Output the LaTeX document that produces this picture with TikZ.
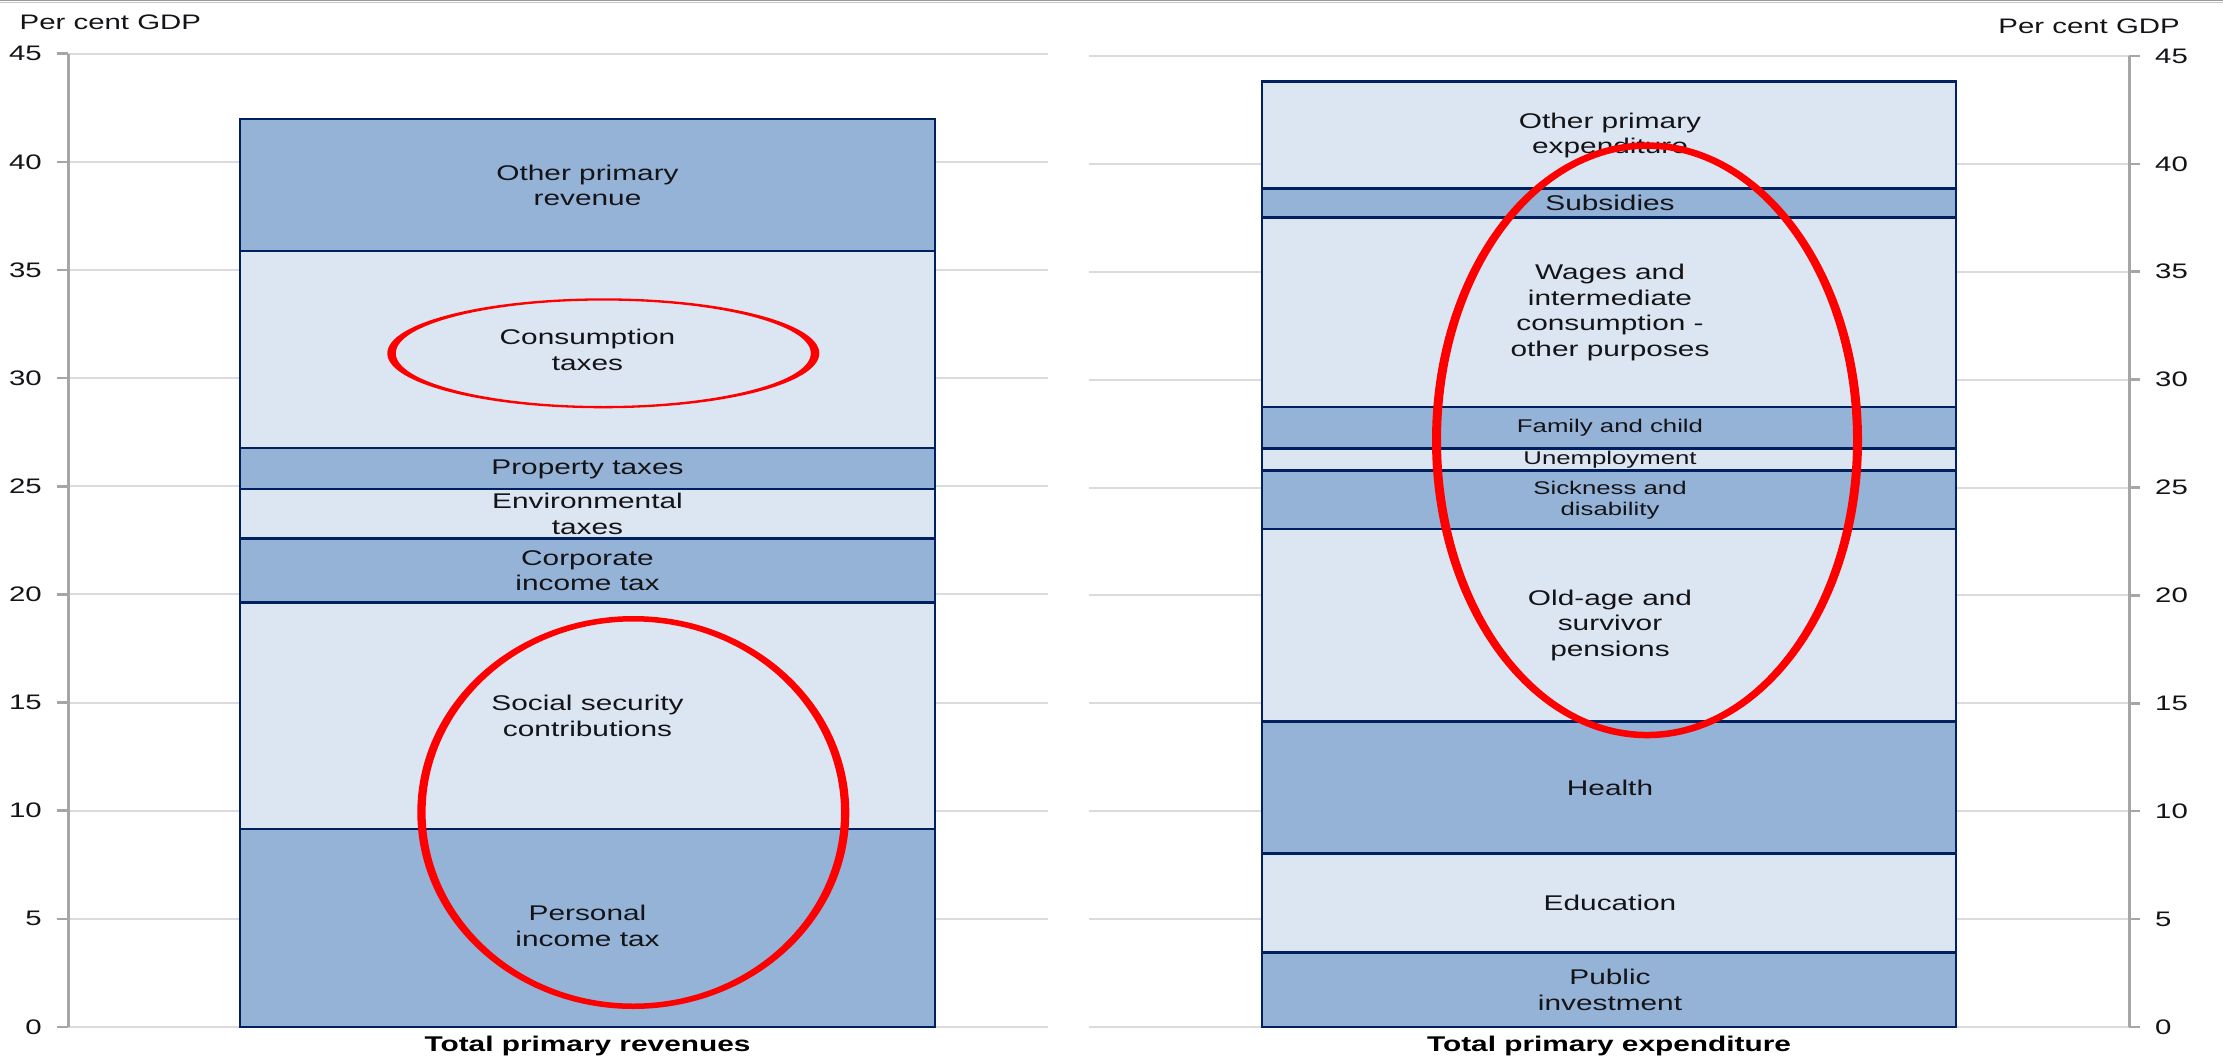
\documentclass[tikz,border=0pt]{standalone}
\usepackage{fontspec}
\setmainfont[FakeStretch=1.4]{Liberation Sans}
\definecolor{darkfill}{RGB}{149,179,215}
\definecolor{lightfill}{RGB}{220,230,242}
\definecolor{barline}{RGB}{0,32,96}
\definecolor{gridc}{RGB}{219,219,219}
\definecolor{axisc}{RGB}{166,166,166}
\definecolor{txt}{RGB}{20,20,24}
\definecolor{ringred}{RGB}{255,0,0}
\tikzset{
  seg/.style={draw=barline, line width=2.8pt},
  gridline/.style={draw=gridc, line width=2pt},
  axisline/.style={draw=axisc, line width=3pt},
  tickline/.style={draw=axisc, line width=2.5pt},
  lbl/.style={text=txt, align=center, inner sep=0pt, font=\fontsize{21.3}{25.5}\selectfont},
  smalllbl/.style={text=txt, align=center, inner sep=0pt, font=\fontsize{18.4}{20.5}\selectfont},
  numlbl/.style={text=txt, inner sep=0pt, font=\fontsize{21}{24}\selectfont},
  titlelbl/.style={text=black, inner sep=0pt, font=\fontsize{21.3}{25}\selectfont\bfseries},
  ring/.style={fill=ringred, even odd rule}
}
\begin{document}
\begin{tikzpicture}[x=1pt,y=-1pt]
\useasboundingbox (0,0) rectangle (2223,1062);
% top border
\draw[gray!80, line width=1.2pt] (0,0.6) -- (2223,0.6);
\draw[gray!45, line width=1.2pt] (0,2.8) -- (2223,2.8);

% gridlines
\foreach \k in {0,...,9} {
  \draw[gridline] (68,{1027-\k*108.15}) -- (1048,{1027-\k*108.15});
  \draw[gridline] (1089,{1027-\k*107.9}) -- (2129,{1027-\k*107.9});
}
% axes
\draw[axisline] (68,53.6) -- (68,1027);
\draw[axisline] (2129,55.9) -- (2129,1027);
\foreach \k in {0,...,9} {
  \pgfmathtruncatemacro{\v}{5*\k}
  \draw[tickline] (57,{1027-\k*108.15}) -- (68,{1027-\k*108.15});
  \draw[tickline] (2129,{1027-\k*107.9}) -- (2140,{1027-\k*107.9});
  \node[numlbl, anchor=east] (ly\k) at (42,{1027-\k*108.15}) {\v};
  \node[numlbl, anchor=west] (ry\k) at (2155,{1027-\k*107.9}) {\v};
}
\node[numlbl, anchor=base west] (unitl) at (19.5,29.3) {Per cent GDP};
\node[numlbl, anchor=base east] (unitr) at (2180,33.3) {Per cent GDP};

% left bar
\foreach \a/\b/\c in {1027/829/darkfill, 829/602.5/lightfill, 602.5/538.7/darkfill,
  538.7/489/lightfill, 489/448/darkfill, 448/251/lightfill, 251/119/darkfill} {
  \draw[seg, fill=\c] (240,\a) rectangle (935,\b);
}
% right bar
\foreach \a/\b/\c in {1027/952.7/darkfill, 952.7/853.3/lightfill, 853.3/721.8/darkfill,
  721.8/529/lightfill, 529/470.8/darkfill, 470.8/448.3/lightfill, 448.3/407/darkfill,
  407/217.5/lightfill, 217.5/188.6/darkfill, 188.6/81.5/lightfill} {
  \draw[seg, fill=\c] (1262,\a) rectangle (1956,\b);
}

% left labels
\node[lbl] (lpit) at (587.5,926) {Personal\\income tax};
\node[lbl] (lssc) at (587.5,716) {Social security\\contributions};
\node[lbl] (lcit) at (587.5,570.5) {Corporate\\income tax};
\node[lbl] (lenv) at (587.5,514) {Environmental\\taxes};
\node[lbl] (lprop) at (587.5,469) {Property taxes};
\node[lbl] (lcons) at (587.5,350) {Consumption\\taxes};
\node[lbl] (loth) at (587.5,185.5) {Other primary\\revenue};

% right labels
\node[lbl] (rpub) at (1610,990) {Public\\investment};
\node[lbl] (redu) at (1610,903) {Education};
\node[lbl] (rhea) at (1610,787.5) {Health};
\node[lbl] (rold) at (1610,625) {Old-age and\\survivor\\pensions};
\node[smalllbl] (rsick) at (1610,500) {Sickness and\\disability};
\node[smalllbl] (runemp) at (1610,459.5) {Unemployment};
\node[smalllbl] (rfam) at (1610,427.5) {Family and child};
\node[lbl] (rwage) at (1610,312.5) {Wages and\\intermediate\\consumption -\\other purposes};
\node[lbl] (rsub) at (1610,203) {Subsidies};
\node[lbl] (roth) at (1610,135.5) {Other primary\\expenditure};

% category titles
\node[titlelbl, anchor=base] (tleft) at (587.5,1051) {Total primary revenues};
\node[titlelbl, anchor=base] (tright) at (1609,1051) {Total primary expenditure};

% red rings
\fill[ring] (603.3,353.3) ellipse [x radius=216pt, y radius=55pt]
            (603.3,353.3) ellipse [x radius=207.5pt, y radius=52.7pt];
\fill[ring] (633.3,812.5) ellipse [x radius=216pt, y radius=196.5pt]
            (633.3,812.5) ellipse [x radius=207.7pt, y radius=191pt];
\fill[ring] (1647,440.3) ellipse [x radius=215pt, y radius=298pt]
            (1647,440.3) ellipse [x radius=206pt, y radius=291.5pt];
\end{tikzpicture}
\end{document}
